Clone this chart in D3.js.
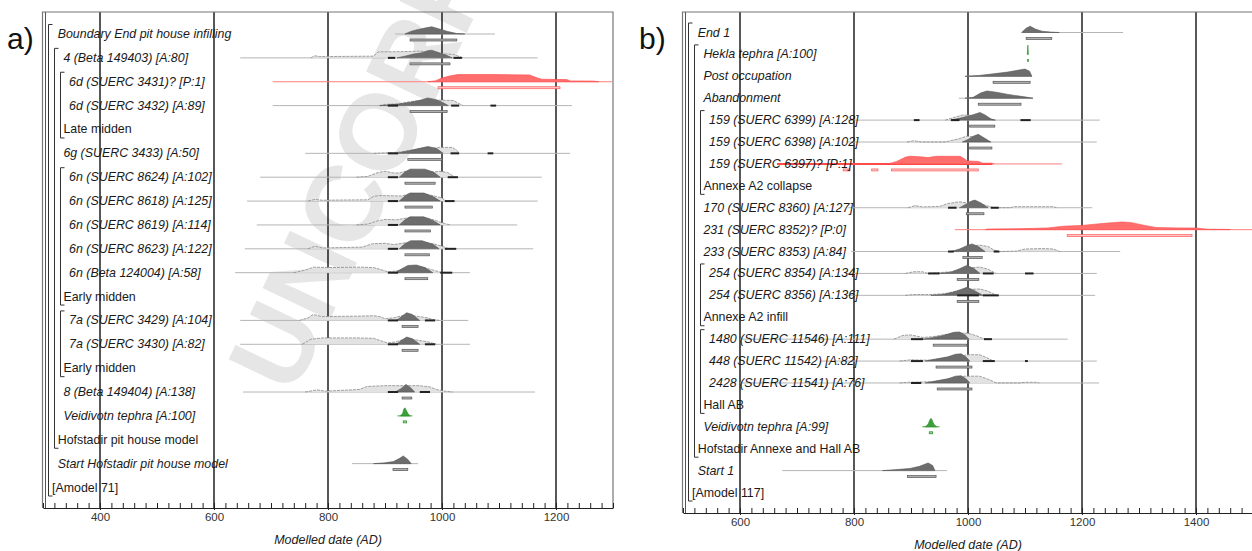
<!DOCTYPE html>
<html>
<head>
<meta charset="utf-8">
<script src="https://cdn.jsdelivr.net/npm/d3@7"></script>
<style>
  body { margin: 0; background: #fff; }
  svg { display: block; font-family: "Liberation Sans", Arial, sans-serif; }
</style>
</head>
<body>
<svg id="chart" width="1252" height="551"></svg>
<script>
// ---- panel a data (years AD, densities relative 0..1) ----
var labelsA = ['Boundary End pit house infilling', '4 (Beta 149403) [A:80]', '6d (SUERC 3431)? [P:1]',
  '6d (SUERC 3432) [A:89]', 'Late midden', '6g (SUERC 3433) [A:50]', '6n (SUERC 8624) [A:102]',
  '6n (SUERC 8618) [A:125]', '6n (SUERC 8619) [A:114]', '6n (SUERC 8623) [A:122]', '6n (Beta 124004) [A:58]',
  'Early midden', '7a (SUERC 3429) [A:104]', '7a (SUERC 3430) [A:82]', 'Early midden', '8 (Beta 149404) [A:138]',
  'Veidivotn tephra [A:100]', 'Hofstadir pit house model', 'Start Hofstadir pit house model', '[Amodel 71]']
var levelsA = [1, 2, 3, 3, 2, 2, 3, 3, 3, 3, 3, 2, 3, 3, 2, 2, 2, 1, 1, 0]
var kindA = ['k', 'k', 'r', 'k', '', 'k', 'k', 'k', 'k', 'k', 'k', '', 'k', 'k', '', 'k', 'g', '', 'k', '']
var bracketsA = [[0, 19, 1], [1, 17, 2], [2, 4, 3], [6, 11, 3], [12, 14, 3]]
var spanA = [[918, 1093], [646, 1168], [703, 1298], [703, 1228], null, [760, 1225], [681, 1175], [658, 1168],
  [675, 1132], [654, 1160], [637, 1049], null, [646, 1046], [646, 1049], null, [651, 1163], [922, 948], null,
  [842, 958], null]
var priorA = [
  null,
  [[770, 0], [777, 0.25], [785, 0.15], [880, 0.2], [888, 0.7], [944, 0.75], [960, 0.8], [1000, 0.5], [1020, 0.4], [1037, 0]],
  null,
  [[890, 0], [900, 0.15], [925, 0.2], [938, 0.4], [960, 0.6], [985, 0.55], [995, 0.65], [1020, 0.6], [1028, 0.3], [1037, 0]],
  null,
  [[880, 0], [920, 0.1], [945, 0.35], [965, 0.6], [985, 0.55], [995, 0.7], [1018, 0.7], [1025, 0.4], [1031, 0]],
  [[850, 0], [870, 0.1], [888, 0.55], [900, 0.7], [915, 0.5], [925, 0.5], [945, 0.85], [970, 0.8], [985, 0.6], [995, 0.7], [1010, 0.55], [1023, 0]],
  [[765, 0], [777, 0.2], [790, 0.1], [870, 0.15], [880, 0.55], [890, 0.65], [930, 0.6], [945, 0.9], [970, 0.85], [990, 0.55], [1000, 0.35], [1008, 0]],
  [[850, 0], [870, 0.1], [888, 0.5], [900, 0.65], [920, 0.6], [945, 0.9], [975, 0.8], [990, 0.5], [1005, 0.15], [1015, 0]],
  [[765, 0], [777, 0.3], [790, 0.1], [860, 0.2], [878, 0.6], [900, 0.65], [915, 0.5], [935, 0.7], [960, 0.85], [985, 0.6], [1000, 0.3], [1012, 0]],
  [[740, 0], [760, 0.3], [775, 0.65], [800, 0.6], [860, 0.65], [880, 0.6], [891, 0.4], [905, 0.1], [920, 0.2], [945, 0.7], [965, 0.65], [985, 0.3], [1000, 0]],
  null,
  [[750, 0], [765, 0.3], [774, 0.7], [790, 0.45], [850, 0.5], [880, 0.55], [891, 0.45], [900, 0.2], [915, 0.3], [935, 0.65], [955, 0.5], [975, 0.3], [984, 0.1], [995, 0]],
  [[755, 0], [770, 0.6], [790, 0.75], [850, 0.75], [880, 0.7], [891, 0.45], [905, 0.15], [920, 0.3], [938, 0.7], [955, 0.5], [975, 0.3], [990, 0]],
  null,
  [[760, 0], [781, 0.25], [795, 0.1], [855, 0.3], [868, 0.65], [900, 0.75], [960, 0.75], [979, 0.6], [990, 0.3], [1005, 0.1], [1019, 0]],
  null, null, null, null
]
var postA = [
  [[935, 0], [945, 0.3], [956, 0.5], [970, 0.7], [982, 0.85], [995, 0.6], [1010, 0.3], [1026, 0.05], [1040, 0]],
  [[921, 0], [935, 0.2], [950, 0.45], [965, 0.6], [975, 0.85], [982, 0.9], [995, 0.6], [1008, 0.3], [1018, 0]],
  [[975, 0], [988, 0.1], [1000, 0.45], [1015, 0.7], [1028, 0.85], [1090, 0.85], [1154, 0.8], [1165, 0.5], [1175, 0.3], [1219, 0.25], [1225, 0.1], [1265, 0.08], [1275, 0]],
  [[891, 0], [920, 0.15], [945, 0.4], [960, 0.6], [975, 0.9], [990, 0.7], [1002, 0.35], [1011, 0]],
  null,
  [[920, 0], [938, 0.25], [955, 0.5], [965, 0.65], [975, 0.8], [990, 0.6], [1002, 0]],
  [[925, 0], [935, 0.6], [944, 0.95], [970, 0.95], [985, 0.6], [997, 0]],
  [[925, 0], [935, 0.6], [944, 0.95], [968, 0.95], [985, 0.5], [997, 0]],
  [[925, 0], [935, 0.6], [944, 0.95], [968, 0.95], [985, 0.5], [997, 0]],
  [[925, 0], [935, 0.6], [945, 0.95], [965, 0.95], [985, 0.5], [995, 0]],
  [[918, 0], [928, 0.4], [940, 0.85], [955, 0.9], [970, 0.6], [984, 0]],
  null,
  [[920, 0], [930, 0.5], [938, 0.9], [948, 0.7], [961, 0]],
  [[920, 0], [930, 0.5], [938, 0.85], [948, 0.65], [961, 0]],
  null,
  [[918, 0], [928, 0.4], [937, 0.9], [945, 0.5], [952, 0]],
  [[927, 0], [931, 0.3], [933, 0.8], [935, 0.95], [937, 0.7], [940, 0.3], [944, 0]],
  null,
  [[880, 0], [900, 0.1], [915, 0.25], [925, 0.6], [932, 0.9], [940, 0.5], [946, 0]],
  null
]
var rangeA = [[[944, 1026]], [[944, 1014]], [[993, 1207]], [[944, 1009]], null, [[940, 1000]], [[935, 988]],
  [[935, 983]], [[935, 980]], [[935, 978]], [[935, 975]], null, [[930, 958]], [[930, 958]], null, [[930, 947]],
  [[932, 938]], null, [[914, 940]], null]
var hpdA = [null, [[905, 918], [1020, 1035]], null, [[905, 923], [1016, 1030], [1085, 1095]], null,
  [[905, 923], [1015, 1030], [1080, 1090]], [[905, 923], [1010, 1028]], [[905, 923], [1005, 1022]], [[905, 923]],
  [[905, 923], [1005, 1025]], [[905, 923], [997, 1018]], null, [[905, 923], [970, 988]], [[905, 923], [970, 988]],
  null, [[905, 923], [961, 979]], null, null, null, null]

// ---- panel b data ----
var labelsB = ['End 1', 'Hekla tephra [A:100]', 'Post occupation', 'Abandonment', '159 (SUERC 6399) [A:128]',
  '159 (SUERC 6398) [A:102]', '159 (SUERC 6397)? [P:1]', 'Annexe A2 collapse', '170 (SUERC 8360) [A:127]',
  '231 (SUERC 8352)? [P:0]', '233 (SUERC 8353) [A:84]', '254 (SUERC 8354) [A:134]', '254 (SUERC 8356) [A:136]',
  'Annexe A2 infill', '1480 (SUERC 11546) [A:111]', '448 (SUERC 11542) [A:82]', '2428 (SUERC 11541) [A:76]',
  'Hall AB', 'Veidivotn tephra [A:99]', 'Hofstadir Annexe and Hall AB', 'Start 1', '[Amodel 117]']
var levelsB = [1, 2, 2, 2, 3, 3, 3, 2, 2, 2, 2, 3, 3, 2, 3, 3, 3, 2, 2, 1, 1, 0]
var kindB = ['k', 'g', 'k', 'k', 'k', 'k', 'r', '', 'k', 'r', 'k', 'k', 'k', '', 'k', 'k', 'k', '', 'g', '', 'k', '']
var bracketsB = [[0, 21, 1], [1, 19, 2], [4, 7, 3], [11, 13, 3], [14, 17, 3]]
var spanB = [[1096, 1272], null, [995, 1112], [984, 1114], [790, 1231], [790, 1226], [665, 1165], null,
  [790, 1218], [977, 1500], [795, 1267], [785, 1226], [785, 1223], null, [600, 1175], [740, 1226], [600, 1230],
  null, [920, 950], null, [674, 963], null]
var strongB = [null, null, null, null, null, null, [665, 1042], null, null, null, null, null, null, null, null,
  null, null, null, null, null, null, null]
var priorB = [
  null, null, null, null,
  [[960, 0], [975, 0.3], [990, 0.6], [1010, 0.55], [1025, 0.4], [1035, 0.15], [1045, 0]],
  [[893, 0], [905, 0.15], [918, 0], [960, 0], [985, 0.4], [998, 0.7], [1010, 0.6], [1030, 0.3], [1040, 0]],
  null, null,
  [[895, 0], [907, 0.25], [920, 0.1], [950, 0.15], [965, 0.5], [985, 0.7], [1000, 0.55], [1020, 0.5], [1035, 0.2], [1045, 0], [1075, 0], [1080, 0.12], [1150, 0.12], [1155, 0]],
  null,
  [[980, 0], [995, 0.4], [1010, 0.7], [1021, 0.75], [1035, 0.6], [1045, 0.2], [1055, 0], [1085, 0.05], [1100, 0.3], [1130, 0.35], [1150, 0.3], [1161, 0]],
  [[890, 0], [905, 0.2], [920, 0.2], [930, 0], [970, 0.2], [990, 0.5], [1010, 0.7], [1021, 0.75], [1035, 0.5], [1045, 0.15], [1050, 0]],
  [[890, 0], [905, 0.1], [935, 0.1], [960, 0.2], [980, 0.5], [1000, 0.7], [1021, 0.75], [1035, 0.5], [1050, 0]],
  null,
  [[870, 0], [886, 0.45], [900, 0.5], [921, 0.2], [940, 0.3], [960, 0.55], [985, 0.7], [1000, 0.7], [1015, 0.4], [1025, 0.1], [1035, 0]],
  [[880, 0], [900, 0.15], [930, 0.1], [950, 0.3], [970, 0.5], [985, 0.55], [1000, 0.75], [1020, 0.75], [1033, 0.4], [1045, 0]],
  [[880, 0], [900, 0.1], [940, 0.15], [960, 0.4], [975, 0.6], [995, 0.8], [1020, 0.8], [1035, 0.45], [1050, 0], [1090, 0], [1100, 0.08], [1120, 0.08], [1125, 0]],
  null, null, null, null, null
]
var postB = [
  [[1094, 0], [1102, 0.5], [1109, 0.75], [1118, 0.4], [1130, 0.15], [1145, 0.05], [1160, 0]],
  [[1104, 0], [1105, 1.1], [1106, 0]],
  [[995, 0], [1020, 0.1], [1045, 0.3], [1070, 0.5], [1090, 0.75], [1100, 0.85], [1108, 0.6], [1112, 0]],
  [[995, 0], [1009, 0.1], [1022, 0.6], [1033, 0.85], [1050, 0.7], [1070, 0.45], [1090, 0.25], [1105, 0.1], [1114, 0]],
  [[970, 0], [990, 0.3], [1005, 0.55], [1021, 0.9], [1030, 0.6], [1040, 0.15], [1048, 0]],
  [[990, 0], [1000, 0.3], [1010, 0.7], [1018, 0.9], [1028, 0.5], [1040, 0]],
  [[860, 0], [875, 0.3], [890, 0.8], [898, 0.9], [915, 0.85], [930, 0.75], [945, 0.9], [986, 0.9], [995, 0.55], [998, 0.35], [1018, 0.3], [1025, 0.1], [1042, 0.08], [1045, 0]],
  null,
  [[985, 0], [995, 0.35], [1005, 0.75], [1012, 0.9], [1022, 0.6], [1035, 0]],
  [[1030, 0], [1035, 0.08], [1100, 0.12], [1140, 0.2], [1167, 0.4], [1200, 0.5], [1240, 0.75], [1270, 0.9], [1285, 0.85], [1310, 0.5], [1330, 0.25], [1370, 0.2], [1400, 0.2], [1420, 0.05], [1454, 0.03], [1460, 0]],
  [[970, 0], [985, 0.3], [1000, 0.75], [1007, 0.9], [1018, 0.6], [1030, 0]],
  [[950, 0], [970, 0.15], [985, 0.55], [998, 0.95], [1010, 0.6], [1021, 0]],
  [[935, 0], [955, 0.1], [975, 0.4], [990, 0.75], [998, 0.95], [1010, 0.6], [1026, 0]],
  null,
  [[920, 0], [935, 0.15], [955, 0.4], [975, 0.8], [985, 0.85], [995, 0.5], [1002, 0]],
  [[925, 0], [945, 0.25], [965, 0.5], [978, 0.8], [988, 0.85], [998, 0.4], [1003, 0]],
  [[925, 0], [945, 0.25], [965, 0.5], [978, 0.8], [988, 0.85], [998, 0.4], [1003, 0]],
  null,
  [[925, 0], [930, 0.3], [933, 0.8], [935, 1], [937, 0.8], [940, 0.3], [945, 0]],
  null,
  [[850, 0], [870, 0.1], [898, 0.25], [915, 0.5], [930, 0.9], [938, 0.6], [942, 0]],
  null
]
var rangeB = [[[1102, 1147]], [[1104.5, 1106]], [[1044, 1109]], [[1018, 1093]], [[1003, 1047]], [[1003, 1042]],
  [[781, 793], [831, 842], [866, 1018]], null, [[997, 1028]], [[1174, 1393]], [[991, 1025]], [[981, 1019]],
  [[981, 1019]], null, [[939, 998]], [[944, 1007]], [[946, 1007]], null, [[932, 938]], null, [[894, 944]], null]
var hpdB = [null, null, null, null, [[905, 915], [970, 985], [1092, 1110]], null, null, null,
  [[965, 980], [1040, 1054]], null, [[965, 975], [1045, 1055]], [[930, 950], [1026, 1045], [1100, 1115]],
  [[1026, 1054], [981, 1019]], null, [[900, 921], [1028, 1042]], [[900, 921], [1026, 1047], [1100, 1105]],
  [[900, 918]], null, null, null, null, null]

var svg = d3.select('#chart')
var h = d3.scaleLinear().domain([0, 1]).range([0, 8.5])

// watermark of the proof copy, below everything
svg.append('text')
   .attr('transform', 'translate(293,397) rotate(-64.5)')
   .attr('font-size', 108)
   .attr('font-weight', 'bold')
   .attr('fill', '#e6e6e6')
   .text('UNCORRECTED')

var colors = {
  k: { prior: '#e2e2e2', priorLine: '#8a8a8a', post: '#6d6d6d', postLine: '#555', base: '#b5b5b5', bar: '#b0b0b0', barLine: '#555' },
  r: { post: '#ff6d6d', postLine: '#ff4a4a', base: '#ff8080', bar: '#ffc4c4', barLine: '#ff5a5a' },
  g: { post: '#3aa03a', postLine: '#2a8a2a', base: '#3aa03a', bar: '#9fd59f', barLine: '#2a8a2a' }
}

function drawPanel (p) {
  var x = d3.scaleLinear().domain(p.domain).range(p.range)
  var n = p.labels.length
  var y = d3.scaleLinear().domain([0, n - 1]).range(p.rows)
  var left = p.range[0]
  var g = svg.append('g')

  // panel letter
  g.append('text').attr('x', p.letterX).attr('y', 49).attr('font-size', 30).attr('fill', '#111').text(p.letter)

  // grid lines every 200 years
  g.selectAll('line.grid').data(p.majors).enter().append('line')
   .attr('x1', function (d) { return x(d) }).attr('x2', function (d) { return x(d) })
   .attr('y1', p.top).attr('y2', p.axisY)
   .attr('stroke', '#111').attr('stroke-width', 1.4)

  // frame
  g.append('path')
   .attr('d', 'M' + (left - 0.5) + ',' + p.axisY + 'V' + p.top + 'H' + p.range[1] + 'V' + p.axisY)
   .attr('fill', 'none').attr('stroke', '#777').attr('stroke-width', 1.2)
  g.append('line').attr('x1', left + 2.5).attr('x2', left + 2.5).attr('y1', p.top).attr('y2', p.axisY)
   .attr('stroke', '#555').attr('stroke-width', 1)

  d3.range(n).forEach(function (i) {
    var kind = p.kind[i]
    if (!kind) return
    var c = colors[kind]
    var yb = y(i) + 0.5
    var area = d3.area().x(function (d) { return x(d[0]) }).y0(yb).y1(function (d) { return yb - h(d[1]) })
    var top = d3.line().x(function (d) { return x(d[0]) }).y(function (d) { return yb - h(d[1]) })
    if (p.span[i]) {
      g.append('line').attr('x1', x(p.span[i][0])).attr('x2', x(Math.min(p.span[i][1], p.domain[1])))
       .attr('y1', yb).attr('y2', yb).attr('stroke', c.base).attr('stroke-width', 1)
    }
    if (p.strong && p.strong[i]) {
      g.append('line').attr('x1', x(p.strong[i][0])).attr('x2', x(p.strong[i][1]))
       .attr('y1', yb).attr('y2', yb).attr('stroke', c.postLine).attr('stroke-width', 2)
    }
    if (p.prior[i]) {
      g.append('path').attr('d', area(p.prior[i])).attr('fill', c.prior)
      g.append('path').attr('d', top(p.prior[i])).attr('fill', 'none')
       .attr('stroke', c.priorLine).attr('stroke-width', 0.8).attr('stroke-dasharray', '3,1')
    }
    if (p.post[i]) {
      g.append('path').attr('d', area(p.post[i])).attr('fill', c.post)
       .attr('stroke', c.postLine).attr('stroke-width', 0.6)
    }
    if (p.hpd[i]) {
      g.selectAll(null).data(p.hpd[i]).enter().append('line')
       .attr('x1', function (d) { return x(d[0]) }).attr('x2', function (d) { return x(d[1]) })
       .attr('y1', yb).attr('y2', yb).attr('stroke', '#222').attr('stroke-width', 2)
    }
    if (p.ranges[i]) {
      g.selectAll(null).data(p.ranges[i]).enter().append('rect')
       .attr('x', function (d) { return x(d[0]) }).attr('width', function (d) { return x(d[1]) - x(d[0]) })
       .attr('y', yb + 5).attr('height', 2)
       .attr('fill', c.bar).attr('stroke', c.barLine).attr('stroke-width', 0.7)
    }
  })

  // labels
  g.selectAll('text.lab').data(p.labels).enter().append('text')
   .attr('x', function (d, i) { return left + 9 + 5.7 * p.levels[i] })
   .attr('y', function (d, i) { return y(i) + 4.5 })
   .attr('font-size', 12.4).attr('fill', '#1a1a1a')
   .attr('font-style', function (d, i) { return p.kind[i] ? 'italic' : 'normal' })
   .text(function (d) { return d })

  // nesting brackets
  g.selectAll('path.br').data(p.brackets).enter().append('path')
   .attr('d', function (d) {
     var bx = left + 5.5 + 6 * (d[2] - 1)
     return 'M' + (bx + 4) + ',' + (y(d[0]) - 9) + 'H' + bx + 'V' + (y(d[1]) + 9) + 'H' + (bx + 4)
   })
   .attr('fill', 'none').attr('stroke', '#333').attr('stroke-width', 1)

  // axis: minor ticks pointing up, labels below
  g.append('g').attr('transform', 'translate(0,' + p.axisY + ')')
   .call(d3.axisTop(x).tickValues(d3.range(p.domain[0], p.domain[1] + 1, 20)).tickSize(5).tickSizeOuter(0).tickFormat(''))
   .call(function (a) { a.selectAll('line, path').attr('stroke', '#222') })
  g.append('g').attr('transform', 'translate(0,' + p.axisY + ')')
   .call(d3.axisBottom(x).tickValues(p.majors).tickSize(2).tickPadding(3).tickFormat(d3.format('d')))
   .call(function (a) {
     a.select('.domain').remove()
     a.selectAll('line').attr('stroke', '#222')
     a.selectAll('text').attr('font-size', 11.5).attr('fill', '#333').attr('font-family', '"Liberation Sans", Arial, sans-serif')
   })
  g.append('text').attr('x', (p.range[0] + p.range[1]) / 2).attr('y', p.axisY + 36)
   .attr('text-anchor', 'middle').attr('font-size', 12.5).attr('font-style', 'italic').attr('fill', '#222')
   .text('Modelled date (AD)')
}

drawPanel({
  letter: 'a)', letterX: 7, domain: [300, 1300], range: [43, 613], top: 12, axisY: 508, rows: [33.5, 487],
  majors: d3.range(400, 1201, 200), labels: labelsA, levels: levelsA, kind: kindA, brackets: bracketsA,
  span: spanA, prior: priorA, post: postA, ranges: rangeA, hpd: hpdA
})
drawPanel({
  letter: 'b)', letterX: 639, domain: [500, 1500], range: [683, 1253], top: 12, axisY: 513, rows: [32, 492],
  majors: d3.range(600, 1401, 200), labels: labelsB, levels: levelsB, kind: kindB, brackets: bracketsB,
  span: spanB, strong: strongB, prior: priorB, post: postB, ranges: rangeB, hpd: hpdB
})
</script>
</body>
</html>
